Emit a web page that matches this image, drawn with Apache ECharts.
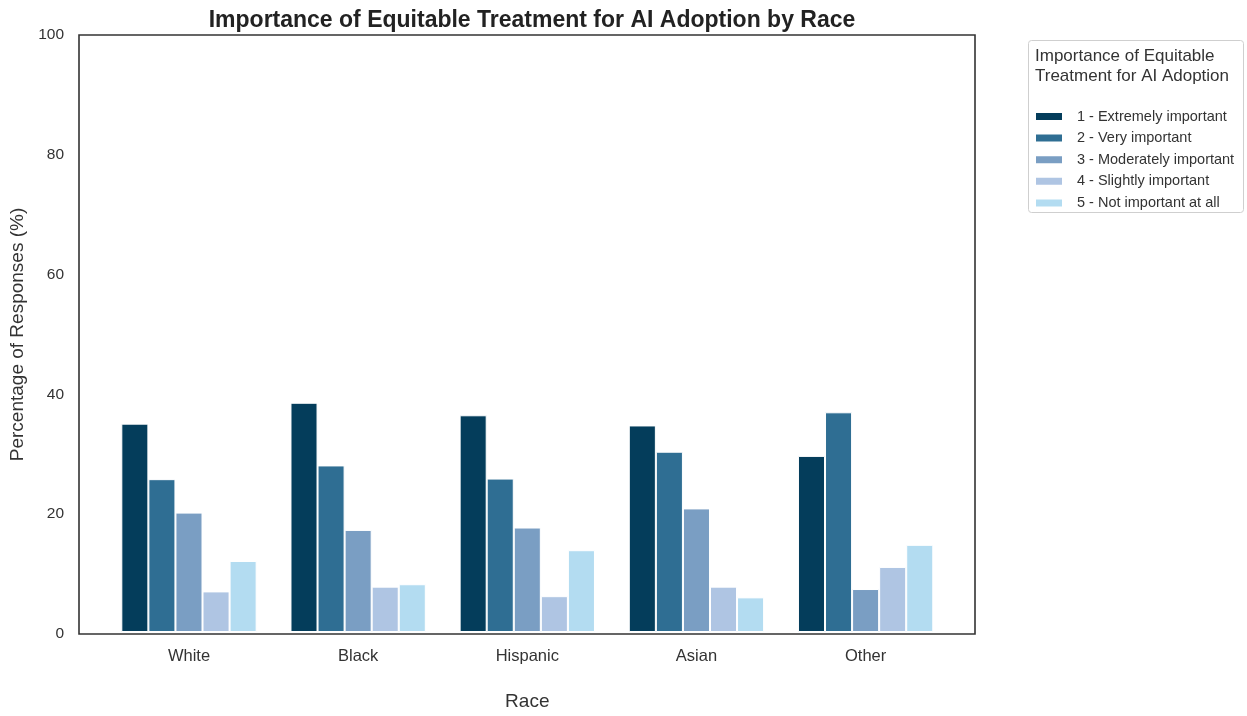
<!DOCTYPE html>
<html>
<head>
<meta charset="utf-8">
<script src="https://cdn.jsdelivr.net/npm/echarts@6/dist/echarts.min.js"></script>
<style>html,body{margin:0;padding:0;background:#fff}#c{width:1247px;height:716px}</style>
</head>
<body>
<div id="c"></div>
<script>
const categories = ['White', 'Black', 'Hispanic', 'Asian', 'Other'];
const seriesNames = ['1 - Extremely important', '2 - Very important', '3 - Moderately important', '4 - Slightly important', '5 - Not important at all'];
const s1 = [34.9, 38.4, 36.3, 34.6, 29.5];
const s2 = [25.6, 27.9, 25.7, 30.2, 36.8];
const s3 = [20.0, 17.1, 17.5, 20.7, 7.2];
const s4 = [6.8, 7.6, 6.0, 7.6, 10.9];
const s5 = [11.9, 8.0, 13.7, 5.8, 14.6];
const yTicks = [0, 20, 40, 60, 80, 100];
const colors = ['#043d5b', '#2f6e93', '#7a9ec3', '#afc5e3', '#b3dcf1'];

const allData = [s1, s2, s3, s4, s5];
const font = 'Liberation Sans, Arial, sans-serif';
const chart = echarts.init(document.getElementById('c'));
chart.setOption({
  animation: false,
  color: colors,
  title: {
    text: 'Importance of Equitable Treatment for AI Adoption by Race',
    left: 527, top: 4, textAlign: 'center',
    textStyle: {fontFamily: font, fontSize: 23, fontWeight: 'bold', color: '#222'}
  },
  grid: [
    {left: 79, right: 272, top: 35, bottom: 82, show: true, borderColor: '#333', borderWidth: 1.6, backgroundColor: '#fff'},
    {left: 104.4, right: 296.8, top: 35, bottom: 82}
  ],
  xAxis: [
    {gridIndex: 0, type: 'value', min: 0, max: 1, show: false},
    {
      gridIndex: 1, type: 'category', data: categories,
      name: 'Race', nameLocation: 'middle', nameGap: 60,
      nameTextStyle: {fontFamily: font, fontSize: 19, color: '#333'},
      axisLine: {show: false},
      axisTick: {show: false},
      axisLabel: {fontFamily: font, fontSize: 16.5, color: '#333', margin: 16}
    }
  ],
  yAxis: [
    {
      gridIndex: 0, type: 'value', min: 0, max: 100, interval: 20,
      name: 'Percentage of Responses (%)', nameLocation: 'middle', nameGap: 43,
      nameTextStyle: {fontFamily: font, fontSize: 19, color: '#333'},
      axisLine: {show: false},
      axisTick: {show: false},
      splitLine: {show: false},
      axisLabel: {fontFamily: font, fontSize: 15.5, color: '#333', margin: 15,
        formatter: v => yTicks.includes(v) ? String(v) : ''}
    },
    {gridIndex: 1, type: 'value', min: 0, max: 100, show: false, splitLine: {show: false}}
  ],
  legend: {
    orient: 'vertical', left: 1034, top: 109, padding: 0,
    itemWidth: 28, itemHeight: 9, itemGap: 6.6,
    icon: 'rect',
    textStyle: {fontFamily: font, fontSize: 14.5, lineHeight: 14, color: '#333', padding: [0, 0, 0, 9]},
    data: seriesNames
  },
  graphic: [
    {type: 'rect', left: 1028, top: 40, shape: {width: 215, height: 172, r: 3},
      style: {fill: '#fff', stroke: '#cfcfcf', lineWidth: 1}, z: -1},
    {type: 'text', left: 1035, top: 46,
      style: {text: 'Importance of Equitable\nTreatment for AI Adoption', fontFamily: font, fontSize: 17, lineHeight: 20, fill: '#333'}}
  ],
  series: seriesNames.map((n, i) => ({
    name: n, type: 'bar', data: allData[i],
    xAxisIndex: 1, yAxisIndex: 1,
    barGap: '0%', barCategoryGap: '20%',
    itemStyle: {borderColor: '#fff', borderWidth: 1}
  }))
});
</script>
</body>
</html>
